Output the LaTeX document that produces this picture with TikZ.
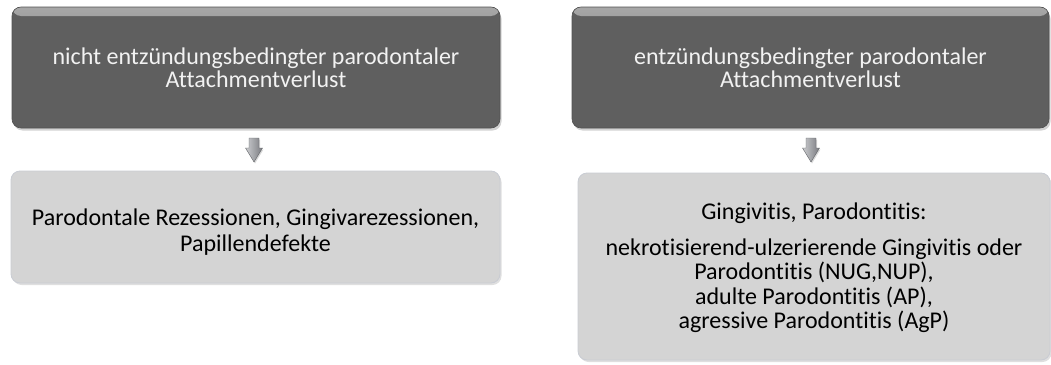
\documentclass[tikz,border=0pt]{standalone}
\usepackage{fontspec}
\setmainfont{Carlito}[Ligatures=NoCommon]
\usetikzlibrary{shadows,positioning}
\definecolor{darkbox}{HTML}{5F5F5F}
\definecolor{darktext}{HTML}{F2F2F2}
\definecolor{lightbox}{HTML}{D4D4D4}
\definecolor{lightedge}{HTML}{C9CCD3}
\definecolor{arrowgray}{HTML}{8E9096}
\tikzset{
  x=1pt,y=1pt,
  topbox/.style={draw=darkbox!85!black, line width=0.6pt, fill=darkbox, rounded corners=9pt,
    text=darktext, align=center, inner sep=0pt, font=\fontsize{24}{23}\selectfont,
    drop shadow={opacity=0.35, shadow xshift=1.5pt, shadow yshift=-2.5pt},
    path picture={\fill[top color=darkbox!55!white, bottom color=darkbox]
      (path picture bounding box.north west) rectangle ([yshift=-9pt]path picture bounding box.north east);}},
  botbox/.style={draw=lightedge, line width=0.8pt, fill=lightbox, rounded corners=9pt,
    inner sep=0pt, drop shadow={opacity=0.25, shadow xshift=1.5pt, shadow yshift=-2pt}},
  bottext/.style={text=black, align=center, inner sep=0pt},
  arrowshape/.style={draw=arrowgray!70!black, line width=0.4pt,
    left color=arrowgray!45!white, right color=arrowgray!85!black,
    drop shadow={opacity=0.3, shadow xshift=1pt, shadow yshift=-1.5pt}}
}
\begin{document}
\begin{tikzpicture}
\useasboundingbox (0,0) rectangle (1051,-364);
\node[topbox, minimum width=488, minimum height=121] (t1) at (256,-67.5)
  {nicht entzündungsbedingter parodontaler\\Attachmentverlust};
\node[topbox, minimum width=477, minimum height=121] (t2) at (810.5,-67.5)
  {entzündungsbedingter parodontaler\\Attachmentverlust};
\node[botbox, minimum width=489, minimum height=112] (b1) at (255.5,-227) {};
\node[bottext, font=\fontsize{24}{26}\selectfont] (b1t) at ([yshift=-5]b1.center)
  {Parodontale Rezessionen, Gingivarezessionen,\\Papillendefekte};
\node[botbox, minimum width=472, minimum height=187] (b2) at (814,-266.5) {};
\node[bottext, font=\fontsize{24}{24.5}\selectfont] (b2t) at ([yshift=-1]b2.center)
  {Gingivitis, Parodontitis:\\[11.5pt]nekrotisierend-ulzerierende Gingivitis oder\\Parodontitis (NUG,NUP),\\adulte Parodontitis (AP),\\agressive Parodontitis (AgP)};
\coordinate (a1) at (254,-138);
\coordinate (a2) at (811,-138);
\foreach \a in {a1,a2}{
  \path[arrowshape] (\a) ++(-5,0) -- ++(10,0) -- ++(0,-10) -- ++(3.5,0) -- ++(-8.5,-14)
    -- ++(-8.5,14) -- ++(3.5,0) -- cycle;
}
\end{tikzpicture}
\end{document}
